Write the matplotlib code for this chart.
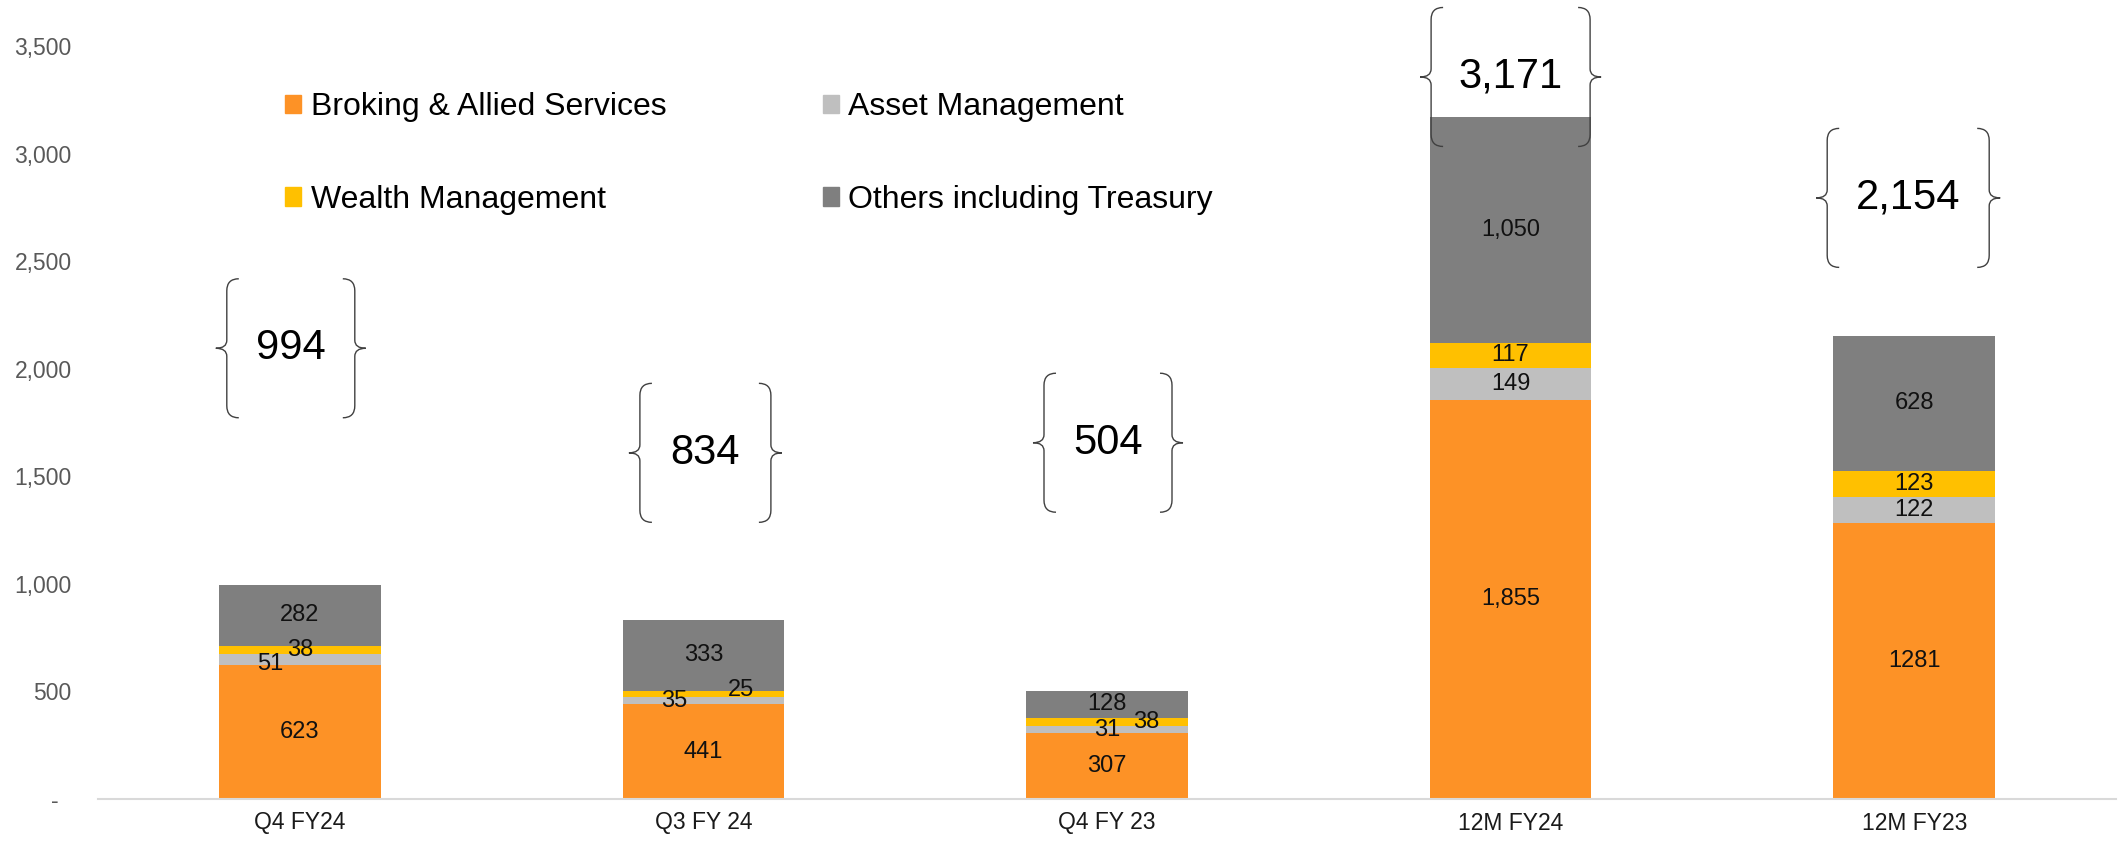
import matplotlib
matplotlib.use("Agg")
import matplotlib.pyplot as plt
from matplotlib.path import Path
from matplotlib.patches import PathPatch, Patch
from matplotlib.transforms import Affine2D, ScaledTranslation

plt.rcParams['font.family'] = ['Liberation Sans', 'DejaVu Sans']

# Données
categories = ["Q4 FY24", "Q3 FY 24", "Q4 FY 23", "12M FY24", "12M FY23"]
broking = [623, 441, 307, 1855, 1281]
asset = [51, 35, 31, 149, 122]
wealth = [38, 25, 38, 117, 123]
others = [282, 333, 128, 1050, 628]
totals = [994, 834, 504, 3171, 2154]
yticks = [0, 500, 1000, 1500, 2000, 2500, 3000, 3500]

series = [
    ("Broking & Allied Services", broking, "#FD9226"),
    ("Asset Management", asset, "#BFBFBF"),
    ("Wealth Management", wealth, "#FFC000"),
    ("Others including Treasury", others, "#7F7F7F"),
]

# décalages (pixels) des petites étiquettes, comme sur l'original
label_shift = {
    ("Asset Management", 0): (-30, -5),
    ("Asset Management", 1): (-29, -1),
    ("Wealth Management", 1): (38, 4),
    ("Wealth Management", 2): (39, 0),
}

# accolades autour des totaux : centre vertical (unités de données), décalage x et largeur (pixels)
brace_y = [2095, 1609, 1656, 3356, 2794]
brace_dx = [-9, 2, 1, 0, -6]
brace_w = [150, 153, 150, 181, 184]


def brace(ax, x, y, w, h=139, dx=0, t=11, r=12):
    trans = Affine2D().translate(dx, 0) + ScaledTranslation(x, y, ax.transData)
    H = h / 2
    for s in (-1, 1):
        x0 = s * w / 2
        xv = x0 - s * t
        verts = [(xv - s * r, H), (xv, H), (xv, H - r),
                 (xv, 8), (xv, 0), (x0, 0),
                 (xv, 0), (xv, -8),
                 (xv, -H + r), (xv, -H), (xv - s * r, -H)]
        codes = [Path.MOVETO, Path.CURVE3, Path.CURVE3, Path.LINETO,
                 Path.CURVE3, Path.CURVE3, Path.CURVE3, Path.CURVE3,
                 Path.LINETO, Path.CURVE3, Path.CURVE3]
        ax.add_patch(PathPatch(Path(verts, codes), transform=trans, fill=False,
                               edgecolor="#404040", lw=1.0, zorder=5, clip_on=False))


W, H = 2121, 842
fig = plt.figure(figsize=(W / 100, H / 100), dpi=100)
ax = fig.add_axes([98 / W, 43 / H, 2018 / W, 753 / H])

x = list(range(len(categories)))
bottom = [0] * len(categories)
handles = {}
for name, vals, color in series:
    bars = ax.bar(x, vals, bottom=bottom, width=0.4, color=color, zorder=2)
    handles[name] = Patch(color=color)
    for i, v in enumerate(vals):
        txt = f"{v:,}"
        if name == "Broking & Allied Services" and i == 4:
            txt = "1281"  # écrit sans séparateur dans la source
        dx, dy = label_shift.get((name, i), (0, 0))
        ax.annotate(txt, (i, bottom[i] + v / 2), xytext=(dx, dy), textcoords="offset pixels",
                    ha="center", va="center", fontsize=17, color="#111111", zorder=4)
    bottom = [b + v for b, v in zip(bottom, vals)]

for i, tot in enumerate(totals):
    brace(ax, i, brace_y[i], brace_w[i], dx=brace_dx[i])
    ax.annotate(f"{tot:,}", (i, brace_y[i]), xytext=(brace_dx[i], 0), textcoords="offset pixels",
                ha="center", va="center", fontsize=30, color="black", zorder=6,
                annotation_clip=False)

ax.set_xlim(-0.5, 4.5)
ax.set_ylim(0, 3500)
ax.set_xticks(x)
ax.set_xticklabels(categories, fontsize=16.5, color="#1a1a1a")
ax.set_yticks(yticks)
ax.set_yticklabels(["-  " if t == 0 else f"{t:,}" for t in yticks], fontsize=16.5, color="#595959")
ax.tick_params(axis="both", length=0)
ax.tick_params(axis="y", pad=19)
ax.tick_params(axis="x", pad=9)
for sp in ["top", "right", "left"]:
    ax.spines[sp].set_visible(False)
ax.spines["bottom"].set_color("#D9D9D9")
ax.spines["bottom"].set_linewidth(1.5)

order = ["Broking & Allied Services", "Wealth Management", "Asset Management", "Others including Treasury"]
ax.legend([handles[n] for n in order], order, ncol=2, frameon=False, fontsize=23,
          loc="upper left", bbox_to_anchor=(285 / W, 1 - 92 / H), bbox_transform=fig.transFigure,
          borderaxespad=0, borderpad=0, handlelength=0.5, handleheight=0.5,
          handletextpad=0.3, columnspacing=4.9, labelspacing=1.97)

fig.savefig("out.png", dpi=100)
